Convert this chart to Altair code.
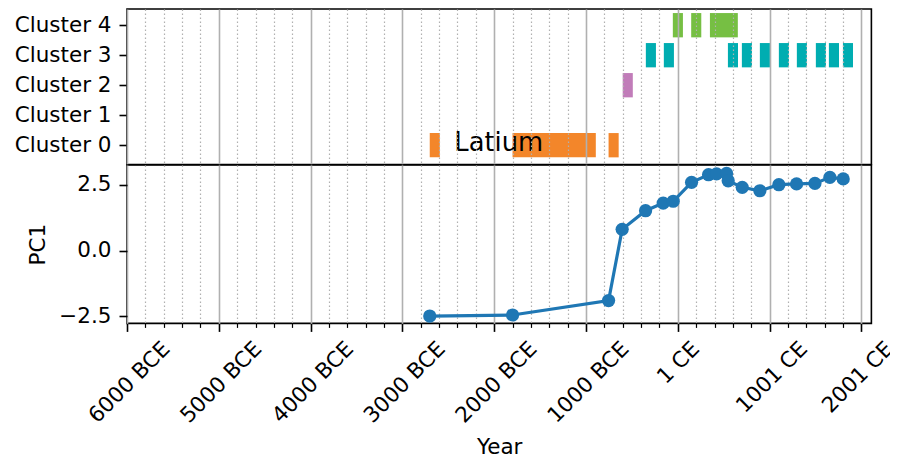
import altair as alt
import pandas as pd

# ---- data ----
sample_year = [-2702, -1800, -754, -606, -351, -159, -50, 150, 335, 422, 531, 549,
               702, 894, 1101, 1294, 1494, 1657, 1802]
sample_pc1 = [-2.49, -2.45, -1.90, 0.81, 1.52, 1.81, 1.88, 2.60, 2.89, 2.92, 2.94, 2.66,
              2.41, 2.28, 2.51, 2.54, 2.56, 2.79, 2.73]

bar_cluster = [0, 0, 0, 2, 3, 3, 3, 3, 3, 3, 3, 3, 3, 3, 4, 4, 4]
bar_start = [-2702, -1800, -754, -600, -348, -152, 546, 698, 894, 1101, 1297, 1504,
             1646, 1799, -54, 146, 350]
bar_end = [-2592, -893, -644, -490, -238, -42, 656, 808, 1004, 1211, 1407, 1614,
           1756, 1909, 56, 256, 654]

cluster_ids = [0, 1, 2, 3, 4]
cluster_colors = ["#F3862A", "#4C9BD1", "#C17CB9", "#00ADB1", "#76BF43"]

label_text = ["Latium"]
label_year = [-1950]
label_cluster = [0]

year_ticks = list(range(-6000, 2001, 200))
pc1_ticks = [-2.5, 0.0, 2.5]

FONT = "DejaVu Sans"
FS = 21.5

bars_df = pd.DataFrame({"cluster": bar_cluster, "start": bar_start, "end": bar_end})
pc_df = pd.DataFrame({"year": sample_year, "pc1": sample_pc1})
lab_df = pd.DataFrame({"text": label_text, "year": label_year, "cluster": label_cluster})

XDOM = [-6000, 2109]
major = "datum.value % 1000 == 0"

grid_kw = dict(
    grid=True,
    gridColor="#b0b0b0",
    gridDash={"condition": {"test": major, "value": []}, "value": [1.5, 2.5]},
    gridWidth={"condition": {"test": major, "value": 1.6}, "value": 1.2},
)

top_x_axis = alt.Axis(values=year_ticks, labels=False, ticks=False, domain=False,
                      title=None, zindex=1, **grid_kw)
xscale = alt.Scale(domain=XDOM, nice=False, zero=False)

x_bottom_axis = alt.Axis(
    values=year_ticks, domain=False, title="Year", zindex=0,
    labelExpr="datum.value % 1000 == 0 ? (datum.value < 0 ? (-datum.value) + ' BCE' : (datum.value + 1) + ' CE') : ''",
    labelAngle=-45, labelAlign="right", labelBaseline="top",
    labelOffset={"condition": [{"test": "datum.value < 0", "value": 31.5},
                               {"test": "datum.value == 0", "value": 10.2},
                               {"test": "datum.value == 2000", "value": 20.5}],
                 "value": 26.4},
    labelPadding=6.3, labelOverlap=False, labelFlush=False,
    tickSize={"condition": {"test": major, "value": 8}, "value": 4},
    tickWidth={"condition": {"test": major, "value": 1.6}, "value": 1.2},
    tickColor="black", titlePadding=10,
    **grid_kw,
)

y_top = alt.Y("lo:Q", scale=alt.Scale(domain=[-0.643, 4.54], nice=False, zero=False),
              axis=alt.Axis(values=cluster_ids, labelExpr="'Cluster ' + datum.value",
                            title=None, domain=False, grid=False))

bars = alt.Chart(bars_df).transform_calculate(
    lo="datum.cluster - 0.405", hi="datum.cluster + 0.405"
).mark_rect().encode(
    x=alt.X("start:Q", scale=xscale, axis=top_x_axis),
    x2="end:Q",
    y=y_top,
    y2="hi:Q",
    color=alt.Color("cluster:O", scale=alt.Scale(domain=cluster_ids, range=cluster_colors),
                    legend=None),
)

text = alt.Chart(lab_df).transform_calculate(
    lo="datum.cluster - 0.2"
).mark_text(font=FONT, fontSize=25.8, align="center", baseline="alphabetic",
            color="black").encode(
    x=alt.X("year:Q", scale=xscale, axis=top_x_axis),
    y=y_top,
    text="text:N",
)

top = alt.layer(bars, text).properties(width=744.4, height=155.5)

bottom = alt.Chart(pc_df).mark_line(
    color="#1f77b4", strokeWidth=3.2,
    point=alt.OverlayMarkDef(filled=True, size=175, color="#1f77b4", opacity=1),
).encode(
    x=alt.X("year:Q", scale=xscale, axis=x_bottom_axis),
    y=alt.Y("pc1:Q", scale=alt.Scale(domain=[-2.77, 3.26], nice=False, zero=False),
            axis=alt.Axis(values=pc1_ticks,
                          labelExpr="datum.value < 0 ? '\u2212' + format(-datum.value, '.1f') : format(datum.value, '.1f')",
                          title="PC1", domain=False, grid=False, titlePadding=9.5)),
).properties(width=744.4, height=158.4)

chart = alt.vconcat(top, bottom, spacing=0, bounds="flush").properties(
    padding={"left": 5, "top": 0, "right": -8, "bottom": -3}
).configure_view(
    stroke="black", strokeWidth=1.6
).configure_axis(
    labelFont=FONT, labelFontSize=FS, labelColor="black",
    titleFont=FONT, titleFontSize=FS, titleColor="black", titleFontWeight="normal",
    tickSize=8, tickWidth=1.6, tickColor="black", labelPadding=8,
)

chart.save("out.html", embed_options={"renderer": "svg", "actions": False})
